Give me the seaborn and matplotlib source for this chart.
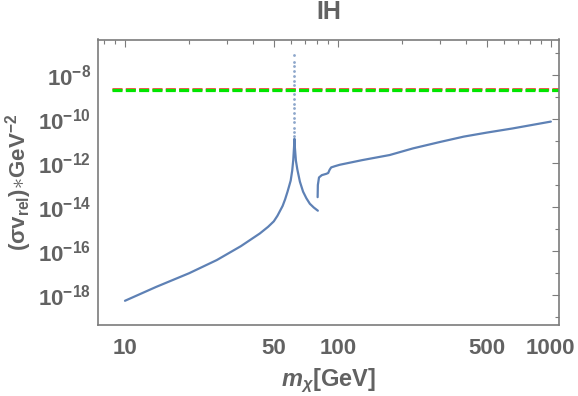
import matplotlib
matplotlib.use('Agg')
import matplotlib.pyplot as plt
import seaborn as sns
import pandas as pd
from matplotlib.ticker import FixedLocator, FixedFormatter, NullFormatter

# ---------------- data ----------------
# branch below the W threshold, including the Higgs resonance at m = 62.5 GeV
low_m = [10, 14, 20, 27, 35, 43, 47, 50, 52, 55, 56.5, 58, 59, 60, 61, 61.7,
         62.2, 62.5, 62.8, 63.5, 64.5, 66.3, 68.6, 71.1, 73.8, 77, 80.5]
low_sv = [5.5e-19, 2.34e-18, 9.8e-18, 3.9e-17, 1.66e-16, 6.3e-16, 1.26e-15,
          2.24e-15, 4.0e-15, 1.12e-14, 2.24e-14, 5.0e-14, 8.9e-14, 1.58e-13,
          4.5e-13, 1.38e-12, 5.0e-12, 1.26e-11, 5.0e-12, 1.26e-12, 5.0e-13,
          1.41e-13, 5.0e-14, 2.5e-14, 1.41e-14, 9.5e-15, 6.8e-15]

# sparse points at the top of the resonance
peak_m = [62.5] * 18
peak_sv = [1.6e-11, 2.5e-11, 4e-11, 7e-11, 1.1e-10, 1.8e-10, 3e-10, 5e-10,
           8e-10, 1.3e-9, 2.1e-9, 3.4e-9, 5.5e-9, 9e-9, 1.5e-8, 2.5e-8,
           4e-8, 8e-8]

# branch above the W threshold
high_m = [80.3, 80.5, 81.5, 84, 88, 90, 91.5, 93, 97, 102, 130, 175, 225,
          300, 390, 500, 660, 1000]
high_sv = [2.8e-14, 1.0e-13, 2.2e-13, 2.8e-13, 3.2e-13, 3.5e-13, 5.0e-13,
           6.3e-13, 7.2e-13, 8.3e-13, 1.35e-12, 2.3e-12, 4.6e-12, 8.9e-12,
           1.58e-11, 2.4e-11, 3.7e-11, 7.6e-11]

# horizontal bounds (dashed)
bound_m = [8.7, 1092]
red_bound = [2.2e-9, 2.2e-9]
green_bound = [1.98e-9, 1.98e-9]

x_major = [10, 50, 100, 500, 1000]
x_major_labels = ["10", "50", "100", "500", "1000"]
x_minor = [8, 9, 20, 30, 40, 60, 70, 80, 90, 200, 300, 400, 600, 700, 800, 900]
y_major = [1e-8, 1e-10, 1e-12, 1e-14, 1e-16, 1e-18]
y_major_labels = [r"$10^{-8}$", r"$10^{-10}$", r"$10^{-12}$", r"$10^{-14}$",
                  r"$10^{-16}$", r"$10^{-18}$"]
y_minor = [1e-7, 1e-9, 1e-11, 1e-13, 1e-15, 1e-17, 1e-19]

# ---------------- style ----------------
sns.set_theme(style='white')
plt.rcParams['font.family'] = ['Liberation Sans', 'DejaVu Sans']
plt.rcParams['font.weight'] = 'bold'
plt.rcParams['mathtext.fontset'] = 'custom'
plt.rcParams['mathtext.rm'] = 'Liberation Sans:bold'
plt.rcParams['mathtext.bf'] = 'Liberation Sans:bold'
plt.rcParams['mathtext.it'] = 'Liberation Sans:bold:italic'
plt.rcParams['mathtext.sf'] = 'Liberation Sans:bold'

TEXT = '#626262'
FRAME = '#7c7c7c'
BLUE = '#5E81B5'

fig = plt.figure(figsize=(5.78, 3.96), dpi=100)
ax = fig.add_axes([98/578, 1-325/396, (559-98)/578, (325-39.5)/396])

df_low = pd.DataFrame({'m': low_m, 'sv': low_sv})
df_high = pd.DataFrame({'m': high_m, 'sv': high_sv})
df_peak = pd.DataFrame({'m': peak_m, 'sv': peak_sv})

sns.lineplot(data=df_low, x='m', y='sv', ax=ax, color=BLUE, lw=1.6, sort=False)
sns.lineplot(data=df_high, x='m', y='sv', ax=ax, color=BLUE, lw=1.6, sort=False)
sns.scatterplot(data=df_peak, x='m', y='sv', ax=ax, color=BLUE, s=4,
                linewidth=0, alpha=0.7)

sns.lineplot(x=bound_m, y=red_bound, ax=ax, color='#ff1a1a', lw=1.8,
             linestyle=(0, (4.0, 1.333)))
sns.lineplot(x=bound_m, y=green_bound, ax=ax, color='#00e600', lw=2.3,
             linestyle=(0, (3.13, 1.04)))

ax.set_xscale('log')
ax.set_yscale('log')
ax.set_xlim(7.47, 1092)
ax.set_ylim(10**-19.36, 10**-6.39)

ax.xaxis.set_major_locator(FixedLocator(x_major))
ax.xaxis.set_major_formatter(FixedFormatter(x_major_labels))
ax.xaxis.set_minor_locator(FixedLocator(x_minor))
ax.xaxis.set_minor_formatter(NullFormatter())
ax.yaxis.set_major_locator(FixedLocator(y_major))
ax.yaxis.set_major_formatter(FixedFormatter(y_major_labels))
ax.yaxis.set_minor_locator(FixedLocator(y_minor))
ax.yaxis.set_minor_formatter(NullFormatter())

ax.tick_params(which='both', direction='in', top=True, right=True,
               color=FRAME, width=0.8, labelcolor=TEXT, labelsize=16)
ax.tick_params(which='major', length=5)
ax.tick_params(which='minor', length=3)
ax.tick_params(axis='x', pad=9)
ax.tick_params(axis='y', pad=5)

for s in ax.spines.values():
    s.set_visible(True)
    s.set_color(FRAME)
    s.set_linewidth(1.2)

ax.set_title('IH', color=TEXT, fontsize=18, fontweight='bold', pad=15)
ax.set_xlabel(r'$m_{\chi}\mathrm{[GeV]}$', color=TEXT, fontsize=17, labelpad=6)
ax.set_ylabel(r'$\mathrm{(\sigma v_{rel})}{\ast}\mathrm{GeV^{-2}}$',
              color=TEXT, fontsize=16, labelpad=3)
ax.grid(False)

fig.savefig('out.png', dpi=100)
